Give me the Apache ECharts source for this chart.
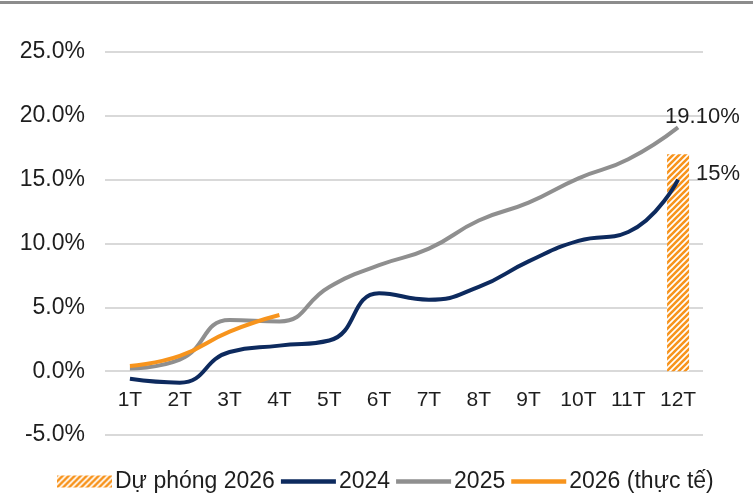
<!DOCTYPE html>
<html>
<head>
<meta charset="utf-8">
<script src="https://cdn.jsdelivr.net/npm/echarts@6/dist/echarts.min.js"></script>
<style>html,body{margin:0;padding:0;background:#fff;}#c{width:753px;height:502px;}</style>
</head>
<body>
<div id="c"></div>
<script>
const categories = ['1T','2T','3T','4T','5T','6T','7T','8T','9T','10T','11T','12T'];
const forecast2026 = [null,null,null,null,null,null,null,null,null,null,null,17.0];
const s2024 = [-0.6,-0.9,1.5,2.0,2.4,6.1,5.6,6.6,8.6,10.2,10.9,15.0];
const s2025 = [0.2,0.9,4.0,3.9,6.6,8.3,9.6,11.8,13.2,15.1,16.6,19.1];
const s2026 = [0.4,1.2,3.1,4.4];
const yTicks = {min:-5, max:25, interval:5};

const FONT = 'Liberation Sans, Arial, sans-serif';
const TXT = '#1e1e1e';
const LINE_ICON = 'path://M0,0 M55,12 M0,3.8 L55,3.8 L55,8.2 L0,8.2 Z';

// hatch pattern
const pc = document.createElement('canvas');
pc.width = 6; pc.height = 6;
const pctx = pc.getContext('2d');
pctx.fillStyle = '#fff';
pctx.fillRect(0,0,6,6);
pctx.strokeStyle = '#f7941d';
pctx.lineWidth = 2.6;
pctx.beginPath();
pctx.moveTo(-1,7); pctx.lineTo(7,-1);
pctx.moveTo(-4,4); pctx.lineTo(4,-4);
pctx.moveTo(2,10); pctx.lineTo(10,2);
pctx.stroke();
const hatch = {image: pc, repeat: 'repeat'};

const chart = echarts.init(document.getElementById('c'));
chart.setOption({
  animation: false,
  backgroundColor: '#fff',
  graphic: [{type:'rect', left:0, top:1, shape:{width:753, height:3}, style:{fill:'#8c8c8c'}}],
  grid: {left:105, right:50, top:52, bottom:67},
  legend: {
    bottom: 4, left: 52,
    itemWidth: 55, itemHeight: 12, itemGap: 6,
    textStyle: {fontFamily: FONT, fontSize: 23, color: TXT, padding:[0,0,0,-2]},
    data: [
      {name:'Dự phóng 2026', icon:'rect'},
      {name:'2024', icon: LINE_ICON},
      {name:'2025', icon: LINE_ICON},
      {name:'2026 (thực tế)', icon: LINE_ICON}
    ]
  },
  xAxis: {
    type: 'category', data: categories, boundaryGap: true,
    position: 'bottom', offset: -64,
    axisLine: {show: false, onZero: false},
    axisTick: {show:false},
    axisLabel: {fontFamily: FONT, fontSize: 21, color: TXT, margin: 19}
  },
  yAxis: {
    type: 'value', min: yTicks.min, max: yTicks.max, interval: yTicks.interval,
    axisLine: {show:false}, axisTick: {show:false},
    splitLine: {lineStyle: {color:'#d9d9d9', width:2}},
    axisLabel: {fontFamily: FONT, fontSize: 23, color: TXT, margin: 20,
      formatter: v => v.toFixed(1) + '%'}
  },
  series: [
    {name:'Dự phóng 2026', type:'bar', data: forecast2026, barWidth: 22, z:1,
     itemStyle: {color: hatch}},
    {name:'2024', type:'line', data: s2024, smooth: true, symbol:'none', z:3,
     lineStyle:{color:'#0d2a5e', width:4}, itemStyle:{color:'#0d2a5e'},
     endLabel: {show:true, formatter: '15%', fontFamily: FONT, fontSize: 22, color: TXT, offset:[10,-6]}},
    {name:'2025', type:'line', data: s2025, smooth: true, symbol:'none', z:2,
     lineStyle:{color:'#8f8f8f', width:4}, itemStyle:{color:'#8f8f8f'},
     endLabel: {show:true, formatter: '19.10%', fontFamily: FONT, fontSize: 22, color: TXT, offset:[-21,-10]}},
    {name:'2026 (thực tế)', type:'line', data: s2026, smooth: true, symbol:'none', z:4,
     lineStyle:{color:'#f7941d', width:4}, itemStyle:{color:'#f7941d'}}
  ]
});
</script>
</body>
</html>
